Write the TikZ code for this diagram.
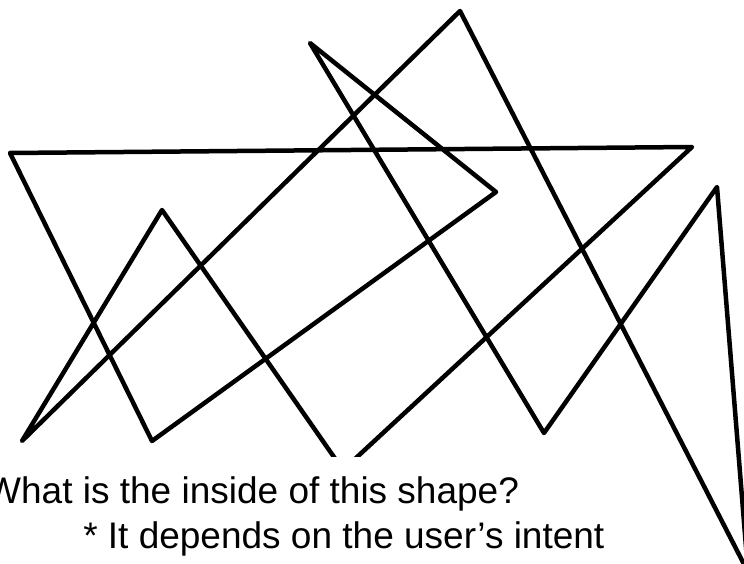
\documentclass[tikz,border=0pt]{standalone}
\usepackage{fontspec}
\setmainfont{Liberation Sans}
\begin{document}
\begin{tikzpicture}[x=1pt,y=-1pt,line width=4.5pt,line join=round,
  caption/.style={fill=white,inner xsep=2pt,inner ysep=19pt,font=\fontsize{37}{45}\selectfont}]
  \useasboundingbox (0,0) rectangle (744,564);
  \coordinate (l) at (10,153);
  \coordinate (r) at (692,147);
  \coordinate (p1) at (152,441);
  \coordinate (c) at (496,192);
  \coordinate (b) at (310,43);
  \coordinate (v) at (544,433);
  \coordinate (rp) at (717,187);
  \coordinate (br) at (748,572);
  \coordinate (a) at (460,11);
  \coordinate (bl) at (22,441);
  \coordinate (sp) at (162,210);
  \coordinate (h) at (343,470);
  \draw (l) -- (p1) -- (c) -- (b) -- (v) -- (rp) -- (br) -- (a) -- (bl) -- (sp) -- (h) -- (r) -- cycle;
  \node[caption,anchor=base west] (question) at (-18,503) {What is the inside of this shape?};
  \node[caption,anchor=base west,inner ysep=4pt] (answer) at (79,548) {* It depends on the user’s intent};
\end{tikzpicture}
\end{document}
